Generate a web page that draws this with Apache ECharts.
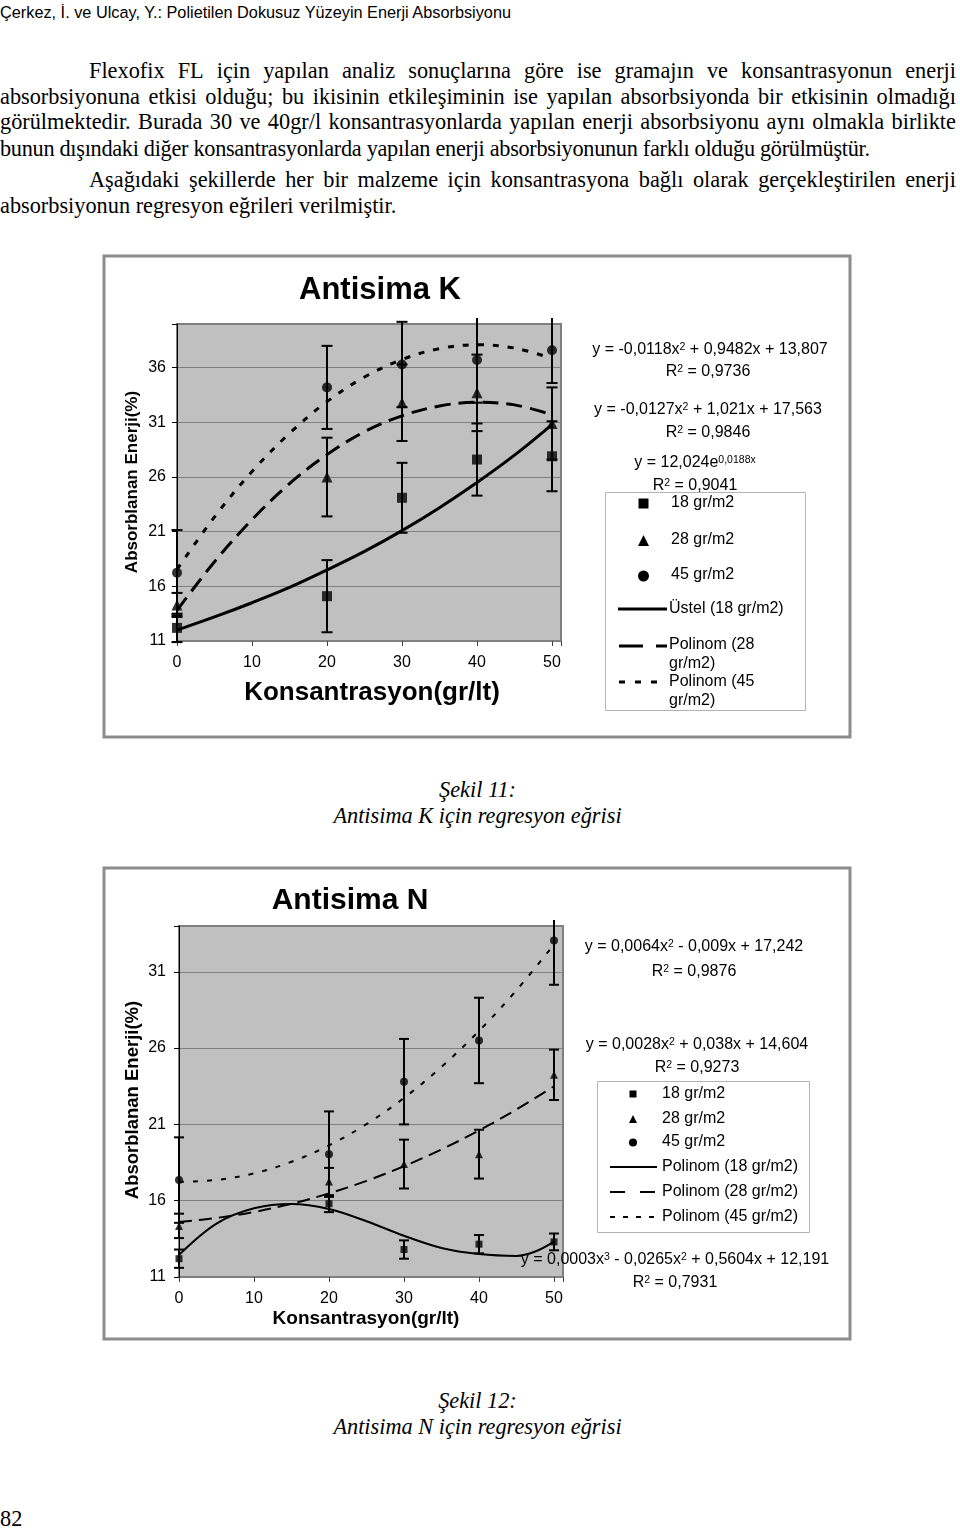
<!DOCTYPE html>
<html><head><meta charset="utf-8">
<script src="https://cdn.jsdelivr.net/npm/echarts@6/dist/echarts.min.js"></script>
<style>
html,body{margin:0;padding:0;background:#fff;}
#page{position:relative;width:960px;height:1531px;overflow:hidden;background:#fff;}
.t{position:absolute;font-family:"Liberation Serif","Times New Roman",serif;font-size:22.3px;line-height:26px;white-space:nowrap;color:#000;}
.j{display:flex;justify-content:space-between;}
.c{left:0;width:955px;text-align:center;font-style:italic;}
#chart{position:absolute;left:0;top:0;width:960px;height:1531px;}
</style></head>
<body><div id="page">
<div class="t" style="font-family:'Liberation Sans',Arial,sans-serif;font-size:16.3px;line-height:18px;top:3px;left:0">Çerkez, İ. ve Ulcay, Y.: Polietilen Dokusuz Yüzeyin Enerji Absorbsiyonu</div>
<div class="t j" style="top:58px;left:89px;width:867px">Flexofix FL için yapılan analiz sonuçlarına göre ise gramajın ve konsantrasyonun enerji</div>
<div class="t j" style="top:84px;left:0;width:956px">absorbsiyonuna etkisi olduğu; bu ikisinin etkileşiminin ise yapılan absorbsiyonda bir etkisinin olmadığı</div>
<div class="t j" style="top:109px;left:0;width:956px">görülmektedir. Burada 30 ve 40gr/l konsantrasyonlarda yapılan enerji absorbsiyonu aynı olmakla birlikte</div>
<div class="t" style="top:136px;left:0;letter-spacing:-0.3px">bunun dışındaki diğer konsantrasyonlarda yapılan enerji absorbsiyonunun farklı olduğu görülmüştür.</div>
<div class="t j" style="top:167px;left:89px;width:867px">Aşağıdaki şekillerde her bir malzeme için konsantrasyona bağlı olarak gerçekleştirilen enerji</div>
<div class="t" style="top:193px;left:0">absorbsiyonun regresyon eğrileri verilmiştir.</div>
<div class="t c" style="top:777px">Şekil 11:</div>
<div class="t c" style="top:803px">Antisima K için regresyon eğrisi</div>
<div class="t c" style="top:1388px">Şekil 12:</div>
<div class="t c" style="top:1414px">Antisima N için regresyon eğrisi</div>
<div class="t" style="top:1506px;left:0">82</div>
<div id="chart"></div>
</div>
<script>
// ---------- data ----------
const concentration = [0, 20, 30, 40, 50];
const xTicks = [0, 10, 20, 30, 40, 50];
const yTicksK = [11, 16, 21, 26, 31, 36];
const yTicksN = [11, 16, 21, 26, 31];

// Antisima K (measured means and error half-widths)
const kMean18 = [12.2, 15.1, 24.1, 27.6, 27.9];
const kErr18  = [1.3, 3.3, 3.2, 3.3, 3.2];
const kMean28 = [14.3, 26.0, 32.8, 33.7, 30.9];
const kErr28  = [1.1, 3.6, 3.5, 3.5, 3.3];
const kMean45 = [17.25, 34.2, 36.3, 36.7, 37.6];
const kErr45  = [3.9, 3.8, 3.9, 3.9, 3.0];
// Antisima K trend curves
const kCurveX      = [0, 5, 10, 15, 20, 25, 30, 35, 40, 45, 50];
const kCurveExp18  = [12.0, 13.2, 14.5, 15.9, 17.5, 19.2, 21.1, 23.2, 25.5, 28.0, 30.8];
const kCurvePoly28 = [13.8, 18.25, 22.1, 25.4, 28.05, 30.15, 31.6, 32.5, 32.85, 32.6, 31.7];
const kCurvePoly45 = [17.55, 22.35, 26.5, 30.0, 32.9, 35.15, 36.75, 37.75, 38.1, 37.8, 36.85];

// Antisima N
const nMean18 = [12.2, 15.8, 12.8, 13.15, 13.3];
const nErr18  = [0.6, 0.55, 0.6, 0.6, 0.55];
const nMean28 = [14.35, 17.25, 18.4, 19.05, 24.25];
const nErr28  = [0.8, 0.9, 1.6, 1.6, 1.65];
const nMean45 = [17.35, 19.05, 23.8, 26.5, 33.05];
const nErr45  = [2.8, 2.8, 2.8, 2.8, 2.9];
const nCurveX18    = [0, 5, 10, 15, 20, 25, 30, 35, 40, 45, 47.5, 50];
const nCurvePoly18 = [12.45, 14.5, 15.5, 15.78, 15.45, 14.65, 13.7, 12.9, 12.5, 12.38, 12.67, 13.32];
const nCurveX      = [0, 5, 10, 15, 20, 25, 30, 35, 40, 45, 50];
const nCurvePoly28 = [14.6, 14.87, 15.26, 15.8, 16.48, 17.3, 18.26, 19.36, 20.6, 21.98, 23.5];
const nCurvePoly45 = [17.24, 17.36, 17.79, 18.55, 19.62, 21.02, 22.73, 24.77, 27.12, 29.79, 32.79];

// ---------- page text justification ----------
document.querySelectorAll('.j').forEach(el => {
  const words = el.textContent.trim().split(/\s+/);
  el.textContent = '';
  words.forEach(w => { const s = document.createElement('span'); s.textContent = w; el.appendChild(s); });
});

// ---------- chart ----------
const FONT = '"Liberation Sans", Arial, sans-serif';
const pairs = (xs, ys) => xs.map((x, i) => [x, ys[i]]);
const triples = (xs, ys, es) => xs.map((x, i) => [x, ys[i], es[i]]);

function xAx(g) {
  return {gridIndex: g, type: 'value', min: 0, max: 51.2, interval: 10,
    axisLine: {show: false},
    axisTick: {show: true, length: 5, lineStyle: {color: '#404040', width: 1}},
    axisLabel: {margin: 14, fontSize: 16, fontFamily: FONT, color: '#000',
      formatter: v => xTicks.includes(v) ? String(v) : ''},
    splitLine: {show: false}};
}
function yAx(g, max, ticks, margin) {
  return {gridIndex: g, type: 'value', min: 11, max: max, interval: 5,
    axisLine: {show: true, lineStyle: {color: '#000', width: 1}},
    axisTick: {show: true, length: 5, lineStyle: {color: '#000', width: 1}},
    axisLabel: {margin: margin, fontSize: 16, fontFamily: FONT, color: '#000',
      formatter: v => ticks.includes(v) ? String(v) : ''},
    splitLine: {show: true, lineStyle: {color: '#808080', width: 1}}};
}
function errSeries(g, data, lw, cw) {
  return {type: 'custom', xAxisIndex: g, yAxisIndex: g, data: data, z: 3, clip: false, silent: true,
    renderItem: (params, api) => {
      const x = api.value(0), y = api.value(1), e = api.value(2);
      const top = api.coord([x, y + e]);
      const bot = api.coord([x, y - e]);
      const limit = params.coordSys.y - 6;
      let ty = top[1], capTop = true;
      if (ty < limit) { ty = limit; capTop = false; }
      const st = {stroke: '#000', lineWidth: lw};
      const ch = [
        {type: 'line', shape: {x1: top[0], y1: ty, x2: bot[0], y2: bot[1]}, style: st},
        {type: 'line', shape: {x1: bot[0] - cw, y1: bot[1], x2: bot[0] + cw, y2: bot[1]}, style: st}
      ];
      if (capTop) ch.push({type: 'line', shape: {x1: top[0] - cw, y1: ty, x2: top[0] + cw, y2: ty}, style: st});
      return {type: 'group', children: ch};
    }};
}
function scat(g, data, symbol, size) {
  return {type: 'scatter', xAxisIndex: g, yAxisIndex: g, data: data, symbol: symbol, symbolSize: size,
    itemStyle: {color: '#000'}, z: 5, silent: true};
}
function trend(g, data, width, dash) {
  return {type: 'line', xAxisIndex: g, yAxisIndex: g, data: data, showSymbol: false, smooth: 0.35,
    lineStyle: {color: '#000', width: width, type: dash || 'solid', cap: 'butt'}, z: 4, silent: true};
}

const SUP = {s: {fontSize: 10.5, fontFamily: FONT, fill: '#000', verticalAlign: 'top'}};
function txt(x, y, text, size, o) {
  o = o || {};
  const al = o.align || 'center';
  return {type: 'text', x: x, y: y, rotation: o.rot || 0, z: o.z || 100,
    style: {text: text, fill: '#000', fontSize: size, fontFamily: FONT, fontWeight: o.bold ? 'bold' : 'normal',
      align: al, verticalAlign: 'middle', textAlign: al, textVerticalAlign: 'middle', rich: o.rich}};
}
function rect(x, y, w, h, stroke, lw, fill, z) {
  return {type: 'rect', z: z, shape: {x: x, y: y, width: w, height: h},
    style: {fill: fill || 'none', stroke: stroke, lineWidth: lw}};
}
function seg(x1, x2, y, lw, dash, z) {
  return {type: 'line', z: z || 102, shape: {x1: x1, y1: y, x2: x2, y2: y},
    style: {stroke: '#000', lineWidth: lw, lineDash: dash || null}};
}
function sq(cx, cy, s) { return {type: 'rect', z: 102, shape: {x: cx - s / 2, y: cy - s / 2, width: s, height: s}, style: {fill: '#000'}}; }
function tri(cx, cy, s) { return {type: 'polygon', z: 102, shape: {points: [[cx, cy - s / 2], [cx - s / 2, cy + s / 2], [cx + s / 2, cy + s / 2]]}, style: {fill: '#000'}}; }
function dot(cx, cy, r) { return {type: 'circle', z: 102, shape: {cx: cx, cy: cy, r: r}, style: {fill: '#000'}}; }

const graphics = [
  // frames
  rect(104, 256, 746, 481, '#8c8c8c', 3, null, 1),
  rect(104, 868, 746, 471, '#8c8c8c', 3, null, 1),
  // chart K texts
  txt(380, 290, 'Antisima K', 31, {bold: true}),
  txt(132, 482, 'Absorblanan Enerji(%)', 17, {bold: true, rot: Math.PI / 2}),
  txt(372, 693, 'Konsantrasyon(gr/lt)', 26, {bold: true}),
  txt(710, 350, 'y = -0,0118x{s|2} + 0,9482x + 13,807', 16, {rich: SUP}),
  txt(708, 372, 'R{s|2} = 0,9736', 16, {rich: SUP}),
  txt(708, 410, 'y = -0,0127x{s|2} + 1,021x + 17,563', 16, {rich: SUP}),
  txt(708, 433, 'R{s|2} = 0,9846', 16, {rich: SUP}),
  txt(695, 463, 'y = 12,024e{s|0,0188x}', 16, {rich: SUP}),
  txt(695, 486, 'R{s|2} = 0,9041', 16, {rich: SUP}),
  // chart K legend
  rect(605.5, 492.5, 200, 218, '#b4b4b4', 1, '#fff', 101),
  sq(643.5, 503.5, 10), tri(643.5, 540.5, 11), dot(643.5, 576, 5.5),
  txt(671, 503, '18 gr/m2', 16, {align: 'left', z: 102}),
  txt(671, 540, '28 gr/m2', 16, {align: 'left', z: 102}),
  txt(671, 575, '45 gr/m2', 16, {align: 'left', z: 102}),
  seg(618, 667, 609, 3),
  txt(669, 609, 'Üstel (18 gr/m2)', 16, {align: 'left', z: 102}),
  seg(619, 667, 646, 3, [24, 13]),
  txt(669, 645, 'Polinom (28', 16, {align: 'left', z: 102}),
  txt(669, 664, 'gr/m2)', 16, {align: 'left', z: 102}),
  seg(619, 667, 682, 3, [6, 10]),
  txt(669, 682, 'Polinom (45', 16, {align: 'left', z: 102}),
  txt(669, 701, 'gr/m2)', 16, {align: 'left', z: 102}),
  // chart N texts
  txt(350, 901, 'Antisima N', 30, {bold: true}),
  txt(133, 1100, 'Absorblanan Enerji(%)', 18.5, {bold: true, rot: Math.PI / 2}),
  txt(366, 1319, 'Konsantrasyon(gr/lt)', 19, {bold: true}),
  txt(694, 947, 'y = 0,0064x{s|2} - 0,009x + 17,242', 16, {rich: SUP}),
  txt(694, 972, 'R{s|2} = 0,9876', 16, {rich: SUP}),
  txt(697, 1045, 'y = 0,0028x{s|2} + 0,038x + 14,604', 16, {rich: SUP}),
  txt(697, 1068, 'R{s|2} = 0,9273', 16, {rich: SUP}),
  txt(675, 1260, 'y = 0,0003x{s|3} - 0,0265x{s|2} + 0,5604x + 12,191', 16, {rich: SUP}),
  txt(675, 1283, 'R{s|2} = 0,7931', 16, {rich: SUP}),
  // chart N legend
  rect(597.5, 1081.5, 212, 151, '#b4b4b4', 1, '#fff', 101),
  sq(633, 1094, 7), tri(633, 1119, 8), dot(633, 1142.5, 4),
  txt(662, 1094, '18 gr/m2', 16, {align: 'left', z: 102}),
  txt(662, 1119, '28 gr/m2', 16, {align: 'left', z: 102}),
  txt(662, 1142, '45 gr/m2', 16, {align: 'left', z: 102}),
  seg(610, 657, 1167, 2),
  txt(662, 1167, 'Polinom (18 gr/m2)', 16, {align: 'left', z: 102}),
  seg(610, 657, 1192, 2, [15, 15]),
  txt(662, 1192, 'Polinom (28 gr/m2)', 16, {align: 'left', z: 102}),
  seg(610, 656, 1217, 2, [5, 8]),
  txt(662, 1217, 'Polinom (45 gr/m2)', 16, {align: 'left', z: 102})
];

const option = {
  animation: false,
  backgroundColor: 'transparent',
  grid: [
    {left: 177, top: 324, width: 384, height: 317, show: true, backgroundColor: '#c0c0c0', borderColor: '#7f7f7f', borderWidth: 2},
    {left: 179, top: 926, width: 384, height: 351, show: true, backgroundColor: '#c0c0c0', borderColor: '#7f7f7f', borderWidth: 2}
  ],
  xAxis: [xAx(0), xAx(1)],
  yAxis: [yAx(0, 40, yTicksK, 11), yAx(1, 34, yTicksN, 13)],
  series: [
    errSeries(0, triples(concentration, kMean18, kErr18), 2, 5.5),
    errSeries(0, triples(concentration, kMean28, kErr28), 2, 5.5),
    errSeries(0, triples(concentration, kMean45, kErr45), 2, 5.5),
    trend(0, pairs(kCurveX, kCurveExp18), 3),
    trend(0, pairs(kCurveX, kCurvePoly28), 3, [16, 8]),
    trend(0, pairs(kCurveX, kCurvePoly45), 3, [6, 9]),
    scat(0, pairs(concentration, kMean18), 'rect', 10),
    scat(0, pairs(concentration, kMean28), 'triangle', 11),
    scat(0, pairs(concentration, kMean45), 'circle', 10),

    errSeries(1, triples(concentration, nMean18, nErr18), 2, 5),
    errSeries(1, triples(concentration, nMean28, nErr28), 2, 5),
    errSeries(1, triples(concentration, nMean45, nErr45), 2, 5),
    trend(1, pairs(nCurveX18, nCurvePoly18), 2),
    trend(1, pairs(nCurveX, nCurvePoly28), 2, [13, 7]),
    trend(1, pairs(nCurveX, nCurvePoly45), 2, [5, 9]),
    scat(1, pairs(concentration, nMean18), 'rect', 7),
    scat(1, pairs(concentration, nMean28), 'triangle', 8),
    scat(1, pairs(concentration, nMean45), 'circle', 8)
  ],
  graphic: {elements: graphics}
};
const chart = echarts.init(document.getElementById('chart'), null, {renderer: 'canvas', width: 960, height: 1531});
chart.setOption(option);
</script>
</body></html>
